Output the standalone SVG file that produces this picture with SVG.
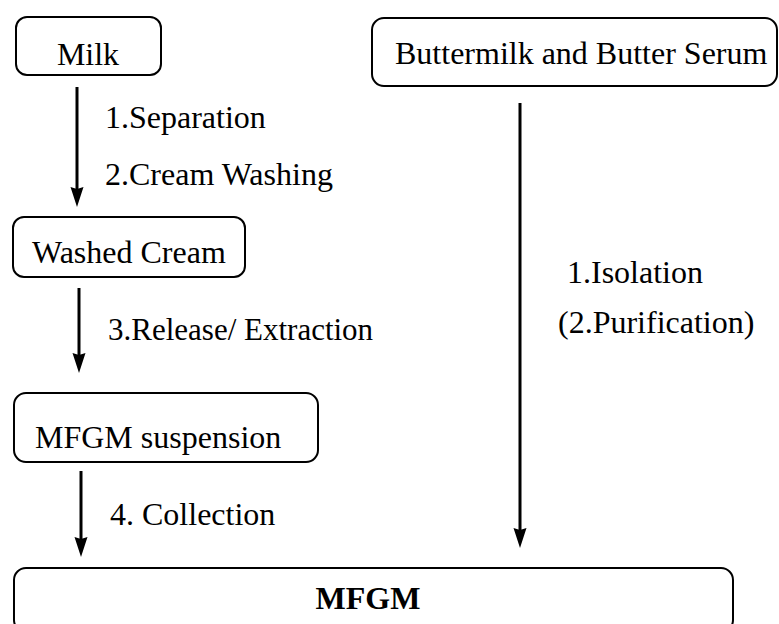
<svg xmlns="http://www.w3.org/2000/svg" width="779" height="624" viewBox="0 0 779 624">
  <style>
    .box { fill: #ffffff; stroke: #000000; stroke-width: 2; }
    .txt { font-family: "Liberation Serif", "Times New Roman", serif; font-size: 32px; fill: #000000; }
    .bold { font-weight: bold; }
    .link { stroke: #000000; stroke-width: 3; fill: none; marker-end: url(#head); }
  </style>
  <defs>
    <marker id="head" markerUnits="userSpaceOnUse" viewBox="0 -7 21 14" markerWidth="21" markerHeight="14" refX="2" refY="0" orient="auto">
      <path d="M0,-6.5 L20,0 L0,6.5 L2,0 Z" fill="#000000"/>
    </marker>
  </defs>
  <rect width="779" height="624" fill="#ffffff"/>

  <!-- process nodes -->
  <g id="milk">
    <rect class="box" x="16" y="17" width="145" height="58" rx="11"/>
    <text class="txt" x="88" y="65" text-anchor="middle">Milk</text>
  </g>
  <g id="buttermilk">
    <rect class="box" x="372" y="18" width="405" height="68" rx="12"/>
    <text class="txt" x="395" y="64">Buttermilk and Butter Serum</text>
  </g>
  <g id="washed-cream">
    <rect class="box" x="13" y="217" width="232" height="60" rx="11"/>
    <text class="txt" x="32" y="263">Washed Cream</text>
  </g>
  <g id="mfgm-suspension">
    <rect class="box" x="14" y="393" width="304" height="69" rx="12"/>
    <text class="txt" x="35" y="448">MFGM suspension</text>
  </g>
  <g id="mfgm">
    <rect class="box" x="14" y="568" width="719" height="64" rx="12"/>
    <text class="txt bold" x="368" y="609" text-anchor="middle">MFGM</text>
  </g>

  <!-- connectors with step labels -->
  <g id="connectors">
    <line class="link" x1="77" y1="87" x2="77" y2="189"/>
    <line class="link" x1="79" y1="288" x2="79" y2="355"/>
    <line class="link" x1="81" y1="471" x2="81" y2="539"/>
    <line class="link" x1="520" y1="103" x2="520" y2="530"/>
    <text class="txt" x="105" y="128">1.Separation</text>
    <text class="txt" x="105" y="185">2.Cream Washing</text>
    <text class="txt" x="108" y="340" style="font-size:31px">3.Release/ Extraction</text>
    <text class="txt" x="110" y="525">4. Collection</text>
    <text class="txt" x="567" y="283">1.Isolation</text>
    <text class="txt" x="558" y="333">(2.Purification)</text>
  </g>
</svg>
